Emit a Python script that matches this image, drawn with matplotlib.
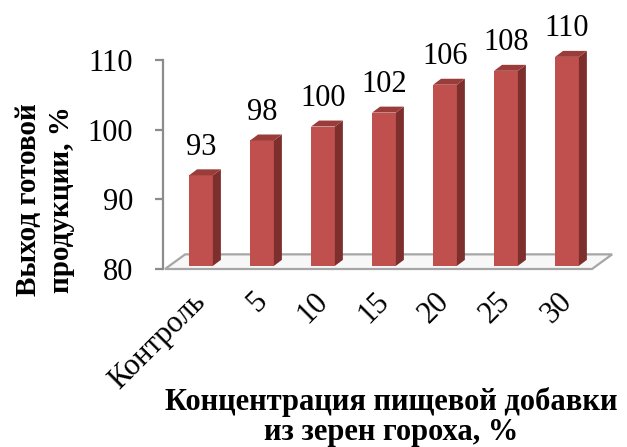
import numpy as np
import matplotlib
matplotlib.use('Agg')
import matplotlib.pyplot as plt
import matplotlib.transforms as mtransforms
from matplotlib.patches import Polygon

plt.rcParams['font.family'] = ['Liberation Serif', 'DejaVu Serif']

# data
categories = ['Контроль', '5', '10', '15', '20', '25', '30']
values = [93, 98, 100, 102, 106, 108, 110]
y_ticks = [80, 90, 100, 110]

FRONT = '#C0504D'
SIDE = '#7D2F2D'
TOP = '#9A3C39'

W, H = 627, 447
fig = plt.figure(figsize=(W / 100, H / 100), dpi=100)
# axes box in pixels: left 163, right 592, top 60 (110), bottom 269 (80)
ax = fig.add_axes([163 / W, 1 - 269 / H, (592 - 163) / W, (269 - 60) / H])
ax.set_xlim(-0.623, 6.41)
ax.set_ylim(80, 110)

# 3d look offsets (in data units)
dx, dy = 0.131, 0.857      # bar depth
lift = 0.45                # bars stand a bit back on the floor
bw = 0.39
fx, fy = 0.33, 2.1         # floor depth

# floor
floor = Polygon([(-0.59, 80), (6.41, 80), (6.41 + fx, 80 + fy), (-0.59 + fx, 80 + fy)],
                closed=True, facecolor='#F7F7F7', edgecolor='#A6A6A6', lw=1.6,
                clip_on=False, zorder=1)
ax.add_patch(floor)

x = np.arange(len(values))
heights = [v - 80 for v in values]
ax.bar(x, heights, width=bw, bottom=80 + lift, color=FRONT, zorder=3, clip_on=False)
for xi, v in zip(x, values):
    l, r = xi - bw / 2, xi + bw / 2
    top = v + lift
    side = Polygon([(r, 80 + lift), (r + dx, 80 + lift + dy), (r + dx, top + dy), (r, top)],
                   closed=True, facecolor=SIDE, edgecolor='none', clip_on=False, zorder=3)
    cap = Polygon([(l, top), (r, top), (r + dx, top + dy), (l + dx, top + dy)],
                  closed=True, facecolor=TOP, edgecolor='none', clip_on=False, zorder=3)
    ax.add_patch(side)
    ax.add_patch(cap)
    ax.annotate(str(v), (xi, v), xytext=(0, 17), textcoords='offset points',
                ha='center', va='baseline', fontsize=22, annotation_clip=False)

for s in ['top', 'right', 'bottom']:
    ax.spines[s].set_visible(False)
ax.spines['left'].set_color('#8C8C8C')
ax.spines['left'].set_linewidth(1.6)
ax.set_yticks(y_ticks)
ax.tick_params(axis='y', direction='out', length=5.5, width=1.6, color='#8C8C8C',
               labelsize=22, pad=16)
ax.set_xticks(x)
ax.set_xticklabels(categories, rotation=45, ha='right', va='top',
                   rotation_mode='anchor', fontsize=22)
ax.tick_params(axis='x', length=0, pad=13)
shift = mtransforms.ScaledTranslation(-10 / 100, 0, fig.dpi_scale_trans)
for lbl in ax.get_xticklabels():
    lbl.set_transform(lbl.get_transform() + shift)

fig.text(45 / W, 1 - 200 / H, 'Выход готовой\nпродукции, %', rotation=90,
         ha='center', va='center', fontsize=21, fontweight='bold', linespacing=1.25)
fig.text(391 / W, 1 - 417 / H, 'Концентрация пищевой добавки\nиз зерен гороха, %',
         ha='center', va='center', fontsize=22, fontweight='bold', linespacing=1.05)

fig.savefig('out.png', dpi=100)
